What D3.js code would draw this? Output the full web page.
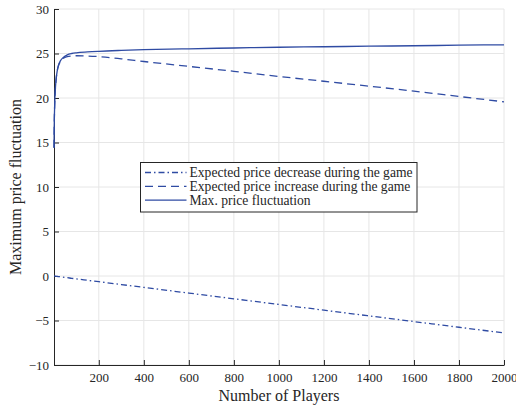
<!DOCTYPE html>
<html>
<head>
<meta charset="utf-8">
<script src="https://d3js.org/d3.v7.min.js"></script>
<style>
    body { margin: 0; background: #fff; }
    .grid line { stroke: #e6e6e6; stroke-width: 1; }
    .axis path, .axis line { stroke: #262626; }
</style>
</head>
<body>
<div id="chart"></div>
<script>
// data
var players = [1, 2, 4, 7, 10, 15, 20, 30, 40, 60, 80, 100, 150, 200, 300, 400, 600, 800, 1000, 1200, 1400, 1600, 1800, 2000];
var maxFluct = [14.4, 16.8, 19.2, 21.0, 22.0, 23.0, 23.6, 24.2, 24.5, 24.85, 25.0, 25.08, 25.18, 25.25, 25.35, 25.43, 25.53, 25.62, 25.7, 25.76, 25.82, 25.87, 25.93, 25.98];
var expIncrease = [14.4, 16.8, 19.2, 21.0, 22.0, 23.0, 23.55, 24.1, 24.4, 24.65, 24.72, 24.75, 24.72, 24.65, 24.4, 24.1, 23.55, 23.0, 22.42, 21.88, 21.33, 20.77, 20.17, 19.57];
var expDecrease = [0, 0, -0.01, -0.02, -0.03, -0.05, -0.06, -0.1, -0.13, -0.19, -0.26, -0.32, -0.48, -0.64, -0.96, -1.28, -1.92, -2.56, -3.2, -3.84, -4.48, -5.12, -5.76, -6.4];
var xTicks = [200, 400, 600, 800, 1000, 1200, 1400, 1600, 1800, 2000];
var yTicks = [-10, -5, 0, 5, 10, 15, 20, 25, 30];
var legendLabels = ["Expected price decrease during the game", "Expected price increase during the game", "Max. price fluctuation"];

var W = 516, H = 410;
var m = {left: 54, right: 12, top: 9, bottom: 45};
var lineColor = "#2f4ba3";
var serif = "'Liberation Serif', 'DejaVu Serif', serif";

var svg = d3.select("#chart").append("svg").attr("width", W).attr("height", H)
    .attr("font-family", serif);

var x = d3.scaleLinear().domain([1, 2000]).range([m.left, W - m.right]);
var y = d3.scaleLinear().domain([-10, 30]).range([H - m.bottom, m.top]);

// grid
var grid = svg.append("g").attr("class", "grid");
grid.selectAll(".gx").data(xTicks).enter().append("line")
    .attr("x1", function(d) { return x(d); }).attr("x2", function(d) { return x(d); })
    .attr("y1", y(-10)).attr("y2", y(30));
grid.selectAll(".gy").data(yTicks).enter().append("line")
    .attr("x1", x(1)).attr("x2", x(2000))
    .attr("y1", function(d) { return y(d); }).attr("y2", function(d) { return y(d); });

// axes with ticks pointing inward
var xAxis = svg.append("g").attr("class", "axis")
    .attr("transform", "translate(0," + y(-10) + ")")
    .call(d3.axisBottom(x).tickValues(xTicks).tickFormat(d3.format("d"))
        .tickSize(-5).tickPadding(8).tickSizeOuter(0));
xAxis.attr("font-family", serif).attr("font-size", 13);
xAxis.selectAll("text").attr("fill", "#262626");

var yAxis = svg.append("g").attr("class", "axis")
    .attr("transform", "translate(" + x(1) + ",0)")
    .call(d3.axisLeft(y).tickValues(yTicks).tickFormat(d3.format("d"))
        .tickSize(-5).tickPadding(5).tickSizeOuter(0));
yAxis.attr("font-family", serif).attr("font-size", 13);
yAxis.selectAll("text").attr("fill", "#262626");

var line = d3.line()
    .x(function(d) { return x(d[0]); })
    .y(function(d) { return y(d[1]); })
    .curve(d3.curveMonotoneX);

var series = [
    {vals: expDecrease, dash: "6,3,1.5,3"},
    {vals: expIncrease, dash: "8,5"},
    {vals: maxFluct, dash: null}
];

series.forEach(function(s) {
    svg.append("path")
        .datum(players.map(function(p, i) { return [p, s.vals[i]]; }))
        .attr("fill", "none")
        .attr("stroke", lineColor)
        .attr("stroke-width", 1.3)
        .attr("stroke-dasharray", s.dash)
        .attr("d", line);
});

// axis labels
svg.append("text")
    .attr("x", (x(1) + x(2000)) / 2).attr("y", 401)
    .attr("text-anchor", "middle").attr("font-size", 16).attr("fill", "#262626")
    .text("Number of Players");

svg.append("text")
    .attr("transform", "translate(21," + y(10) + ") rotate(-90)")
    .attr("text-anchor", "middle").attr("font-size", 16).attr("fill", "#262626")
    .text("Maximum price fluctuation");

// legend
var lg = svg.append("g").attr("transform", "translate(140.5,162.5)");
lg.append("rect").attr("width", 276.5).attr("height", 49.5)
    .attr("fill", "#fff").attr("stroke", "#262626").attr("stroke-width", 1);
lg.selectAll(".ll").data(series).enter().append("line")
    .attr("x1", 4.5).attr("x2", 46)
    .attr("y1", function(d, i) { return 10 + i * 13.8; })
    .attr("y2", function(d, i) { return 10 + i * 13.8; })
    .attr("stroke", lineColor).attr("stroke-width", 1.3)
    .attr("stroke-dasharray", function(d) { return d.dash; });
lg.selectAll(".lt").data(legendLabels).enter().append("text")
    .attr("x", 49)
    .attr("y", function(d, i) { return 14.5 + i * 13.8; })
    .attr("font-size", 13.6).attr("fill", "#262626")
    .text(function(d) { return d; });
</script>
</body>
</html>
